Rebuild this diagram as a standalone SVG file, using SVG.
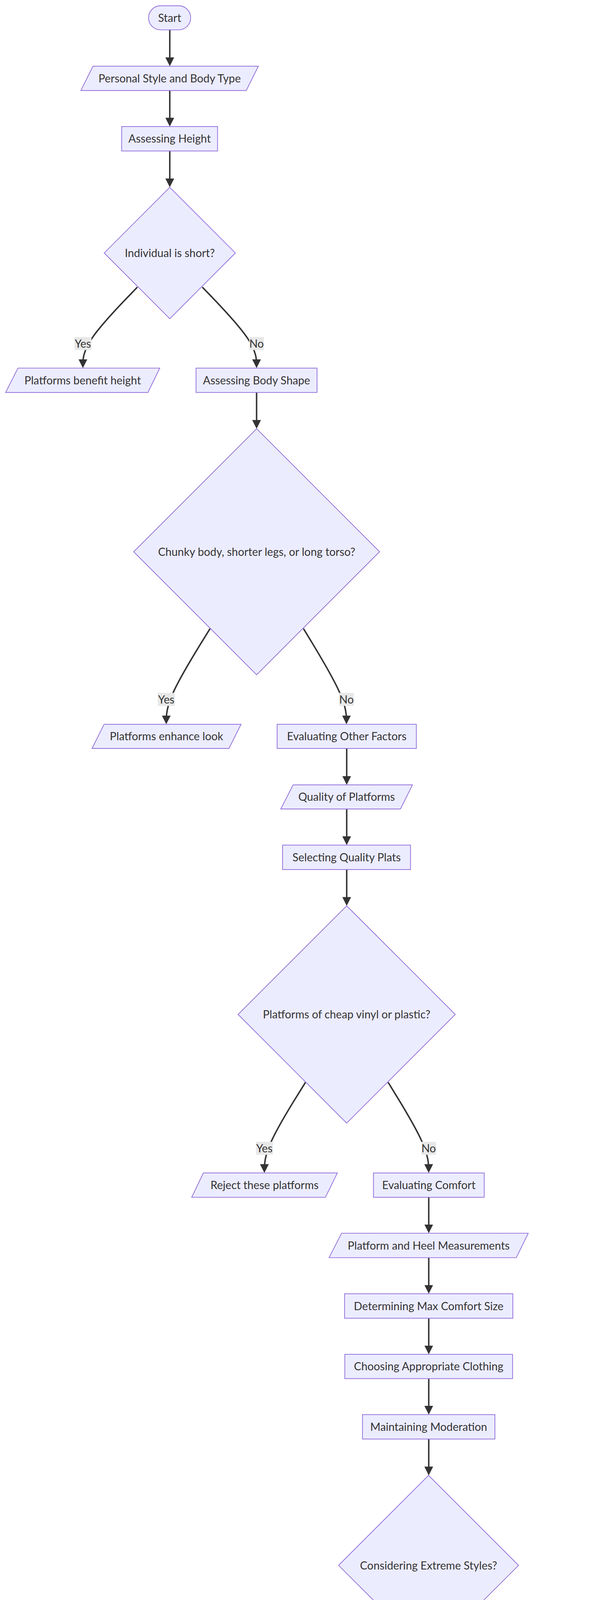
<svg xmlns="http://www.w3.org/2000/svg" width="1568" height="5116" viewBox="0 0 1568 5116">
<defs>
<marker id="arrow" viewBox="0 0 10 10" refX="7.8" refY="5" markerUnits="userSpaceOnUse" markerWidth="22.5" markerHeight="22.5" orient="auto">
<path d="M0,0 L10,5 L0,10 z" fill="#333333"/>
</marker>
<style>
.shape{fill:#ECECFF;stroke:#9370DB;stroke-width:1.9}
.t{font-family:Lato,"Liberation Sans",Arial,sans-serif;font-size:28.3px;fill:#333333;text-anchor:middle}
.edge{fill:none;stroke:#333333;stroke-width:3.75;marker-end:url(#arrow)}
.elbg{fill:#e8e8e8}
</style>
</defs>
<rect width="1568" height="5116" fill="#ffffff"/>

<g id="connectors">
<path class="edge" d="M435,76.4 L435,164.5"/>
<path class="edge" d="M435,231.7 L435,319"/>
<path class="edge" d="M435,386.5 L435,474.6"/>
<path class="edge" d="M352,735 L328.7,759.1 C305.5,783.1 258.9,831.3 235.7,865.8 C212.4,900.4 212.4,921.4 212.4,931.9 L212.4,937.4"/>
<path class="edge" d="M518.4,735 L541.6,759.1 C564.7,783.1 611,831.3 634.2,865.8 C657.3,900.4 657.3,921.4 657.3,931.9 L657.3,937.4"/>
<path class="edge" d="M657.4,1004.7 L657.4,1092.7"/>
<path class="edge" d="M538.2,1609.3 L519.5,1639.5 C500.8,1669.7 463.4,1730 444.7,1770.9 C426,1811.7 426,1832.9 426,1843.6 L426,1849.2"/>
<path class="edge" d="M777.5,1609.3 L795.9,1639.5 C814.2,1669.7 851,1730 869.3,1770.9 C887.7,1811.7 887.7,1832.9 887.7,1843.6 L887.7,1849.2"/>
<path class="edge" d="M888.3,1916 L888.3,2004.3"/>
<path class="edge" d="M888.3,2071 L888.3,2158.5"/>
<path class="edge" d="M888.3,2226 L888.3,2314"/>
<path class="edge" d="M782.7,2770.7 L765.2,2798.9 C747.6,2827 712.5,2883.4 695,2922.2 C677.4,2960.9 677.4,2982.2 677.4,2992.8 L677.4,2997.8"/>
<path class="edge" d="M994.4,2770.7 L1011.7,2798.9 C1029,2827 1063.7,2883.4 1081,2922.2 C1098.3,2960.9 1098.3,2982.2 1098.3,2992.8 L1098.3,2997.8"/>
<path class="edge" d="M1098.5,3065.1 L1098.5,3152.1"/>
<path class="edge" d="M1098.5,3219.6 L1098.5,3307.1"/>
<path class="edge" d="M1098.5,3374.6 L1098.5,3462.1"/>
<path class="edge" d="M1098.5,3529.3 L1098.5,3616.4"/>
<path class="edge" d="M1098.5,3683.9 L1098.5,3772"/>
<path class="edge" d="M995.8,4135 L972.6,4163 C949.6,4191 903.6,4246.9 880.6,4285.2 C857.6,4323.5 857.6,4344.2 857.6,4354.5 L857.6,4359.8"/>
<path class="edge" d="M1200.5,4135 L1223.7,4163 C1246.9,4191 1293.2,4246.9 1316.4,4285.2 C1339.6,4323.5 1339.6,4344.2 1339.6,4354.5 L1339.6,4359.8"/>
<path class="edge" d="M1339.4,4427.3 L1339.4,4514"/>
<path class="edge" d="M1339.4,4582.3 L1339.4,4669"/>
<path class="edge" d="M1339.4,4737.3 L1339.4,4824"/>
<path class="edge" d="M1339.4,4892.3 L1339.4,4979.7"/>
</g>

<g id="edge-labels">
<g id="label-yes-1"><rect class="elbg" x="190.6" y="862.8" width="43.6" height="33.3"/><text class="t" x="212.4" y="889.6">Yes</text></g>
<g id="label-no-1"><rect class="elbg" x="638.5" y="862.8" width="37.6" height="33.3"/><text class="t" x="657.3" y="889.6">No</text></g>
<g id="label-yes-2"><rect class="elbg" x="404.2" y="1773.8" width="43.6" height="33.3"/><text class="t" x="426" y="1800.6">Yes</text></g>
<g id="label-no-2"><rect class="elbg" x="868.9" y="1773.8" width="37.6" height="33.3"/><text class="t" x="887.7" y="1800.6">No</text></g>
<g id="label-yes-3"><rect class="elbg" x="655.6" y="2923" width="43.6" height="33.3"/><text class="t" x="677.4" y="2949.8">Yes</text></g>
<g id="label-no-3"><rect class="elbg" x="1079.5" y="2923" width="37.6" height="33.3"/><text class="t" x="1098.3" y="2949.8">No</text></g>
<g id="label-yes-4"><rect class="elbg" x="835.8" y="4286.2" width="43.6" height="33.3"/><text class="t" x="857.6" y="4313">Yes</text></g>
<g id="label-no-4"><rect class="elbg" x="1320.8" y="4286.2" width="37.6" height="33.3"/><text class="t" x="1339.6" y="4313">No</text></g>
</g>

<g id="start"><rect class="shape" x="380.6" y="14.7" width="107.9" height="61.7" rx="30.85" ry="30.85"/><text class="t" x="434.6" y="55.7">Start</text></g>
<g id="personal-style"><polygon class="shape" points="238.2,169.5 661.9,169.5 630.9,231.7 207.2,231.7"/><text class="t" x="434.6" y="210.8">Personal Style and Body Type</text></g>
<g id="assessing-height"><rect class="shape" x="311.7" y="324" width="245.7" height="62.5"/><text class="t" x="434.6" y="365.4">Assessing Height</text></g>
<g id="is-short"><polygon class="shape" points="435,479.6 603,647.7 435,815.8 267,647.7"/><text class="t" x="435" y="657.9">Individual is short?</text></g>
<g id="platforms-benefit"><polygon class="shape" points="45.9,942.4 409.3,942.4 378.9,1004.7 14.4,1004.7"/><text class="t" x="211.8" y="983.7">Platforms benefit height</text></g>
<g id="assessing-body"><rect class="shape" x="502.3" y="942.4" width="310" height="62.3"/><text class="t" x="657.3" y="983.7">Assessing Body Shape</text></g>
<g id="body-shape"><polygon class="shape" points="657.5,1097.7 972.5,1412.5 657.5,1727.3 342.5,1412.5"/><text class="t" x="657.5" y="1422.7">Chunky body, shorter legs, or long torso?</text></g>
<g id="platforms-enhance"><polygon class="shape" points="266.7,1854.2 617.5,1854.2 586.7,1916 235.8,1916"/><text class="t" x="426.6" y="1895.3">Platforms enhance look</text></g>
<g id="evaluating-other"><rect class="shape" x="710" y="1854.2" width="356.7" height="61.8"/><text class="t" x="888.4" y="1895.3">Evaluating Other Factors</text></g>
<g id="quality"><polygon class="shape" points="751,2009.3 1056.8,2009.3 1026,2071 719.3,2071"/><text class="t" x="888" y="2050.4">Quality of Platforms</text></g>
<g id="selecting-quality"><rect class="shape" x="724" y="2163.5" width="327.8" height="62.5"/><text class="t" x="888" y="2205">Selecting Quality Plats</text></g>
<g id="cheap-vinyl"><polygon class="shape" points="888.2,2319 1166.4,2597 888.2,2875.2 610,2597"/><text class="t" x="888.2" y="2607.2">Platforms of cheap vinyl or plastic?</text></g>
<g id="reject"><polygon class="shape" points="521,3002.8 864.3,3002.8 833.7,3065.1 491.2,3065.1"/><text class="t" x="677.7" y="3044.2">Reject these platforms</text></g>
<g id="evaluating-comfort"><rect class="shape" x="956.8" y="3002.8" width="283.8" height="62.3"/><text class="t" x="1098.7" y="3044.2">Evaluating Comfort</text></g>
<g id="measurements"><polygon class="shape" points="875.1,3157.1 1353.4,3157.1 1322.8,3219.6 843.2,3219.6"/><text class="t" x="1098.3" y="3198.6">Platform and Heel Measurements</text></g>
<g id="max-comfort"><rect class="shape" x="882.8" y="3312.1" width="431.1" height="62.5"/><text class="t" x="1098.3" y="3353.6">Determining Max Comfort Size</text></g>
<g id="clothing"><rect class="shape" x="883.4" y="3467.1" width="429.9" height="62.2"/><text class="t" x="1098.3" y="3508.4">Choosing Appropriate Clothing</text></g>
<g id="moderation"><rect class="shape" x="928.7" y="3621.4" width="339.3" height="62.5"/><text class="t" x="1098.3" y="3662.9">Maintaining Moderation</text></g>
<g id="extreme"><polygon class="shape" points="1098,3777 1328.5,4007.3 1098,4237.6 867.5,4007.3"/><text class="t" x="1098" y="4017.5">Considering Extreme Styles?</text></g>
<g id="discourage"><polygon class="shape" points="653,4364.8 1092.8,4364.8 1062.2,4427.3 622.4,4427.3"/><text class="t" x="857.6" y="4406.2">Discourage extreme platforms</text></g>
<g id="basic-styles"><rect class="shape" x="1184.6" y="4364.8" width="309.3" height="62.5"/><text class="t" x="1339.3" y="4406.2">Choosing Basic Styles</text></g>
<g id="color-style"><polygon class="shape" points="1179.8,4519 1530.6,4519 1499.4,4582.3 1148.5,4582.3"/><text class="t" x="1339.5" y="4560.8">Color and Style Choices</text></g>
<g id="color-accents"><rect class="shape" x="1140.4" y="4674" width="397" height="63.3"/><text class="t" x="1338.9" y="4715.8">Selecting Color and Accents</text></g>
<g id="final"><polygon class="shape" points="1186.6,4829 1523.1,4829 1492.5,4892.3 1155.3,4892.3"/><text class="t" x="1339.2" y="4870.8">Final recommendation</text></g>
<g id="end"><rect class="shape" x="1293.3" y="4984.7" width="91.8" height="62.6" rx="31.3" ry="31.3"/><text class="t" x="1339.2" y="5026.2">End</text></g>
</svg>
